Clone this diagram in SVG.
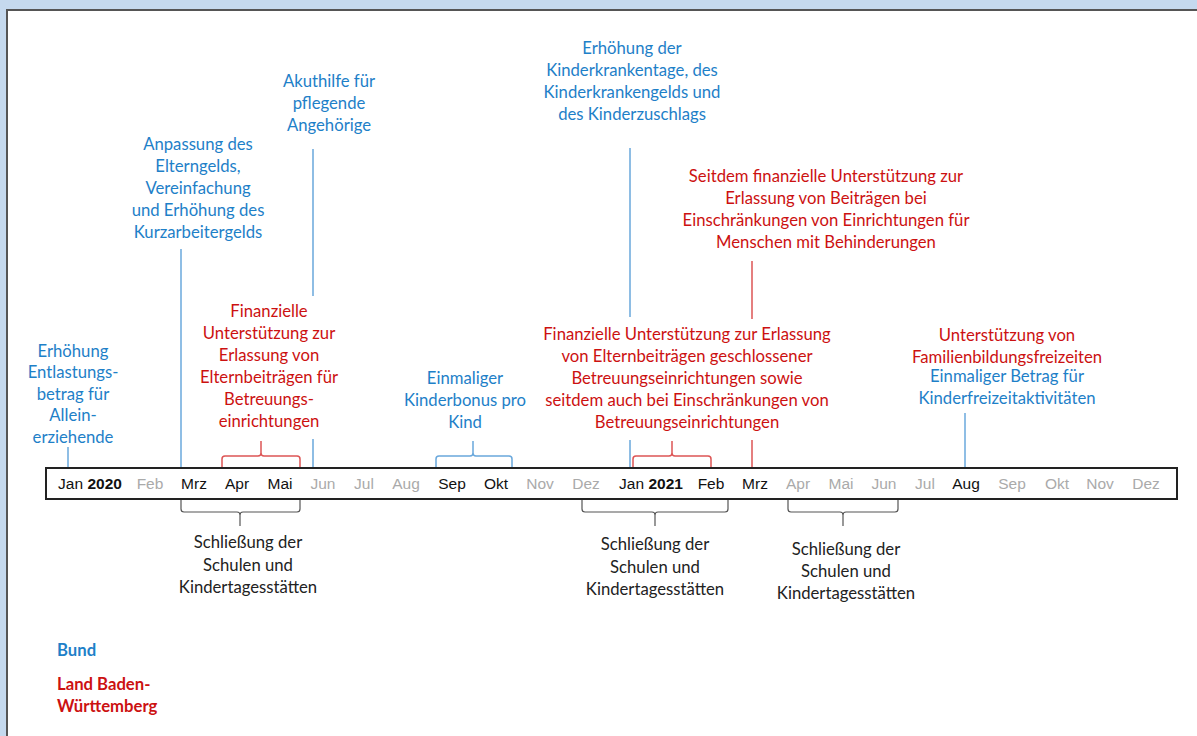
<svg xmlns="http://www.w3.org/2000/svg" width="1197" height="736" viewBox="0 0 1197 736">
<style>
.t{font-family:Lato,"Open Sans","Liberation Sans",sans-serif;font-size:16.7px;text-anchor:middle}
.b{fill:#1e80c8}.r{fill:#cc1111}.k{fill:#222}
.m{font-family:"Liberation Sans",Arial,sans-serif;font-size:15.5px;text-anchor:middle}
.mk{fill:#111}.mg{fill:#aaaaaa}
.lb{stroke:#6aa8dc;stroke-width:1.5;fill:none}
.lr{stroke:#dd5555;stroke-width:1.5;fill:none}
.lg{stroke:#555;stroke-width:1.2;fill:none}
.lg2{font-family:Lato,"Open Sans","Liberation Sans",sans-serif;font-size:16.7px;font-weight:bold}
</style>
<rect width="1197" height="736" fill="#c5d9ee"/>
<rect x="7" y="10" width="1200" height="740" fill="#fff" stroke="#555" stroke-width="2"/>
<g id="timeline">
<rect x="46" y="468" width="1131" height="31" fill="#fff" stroke="#222" stroke-width="2"/>
<text class="m mk" x="90" y="489">Jan <tspan font-weight="bold">2020</tspan></text>
<text class="m mg" x="150" y="489">Feb</text>
<text class="m mk" x="194" y="489">Mrz</text>
<text class="m mk" x="237" y="489">Apr</text>
<text class="m mk" x="280" y="489">Mai</text>
<text class="m mg" x="323" y="489">Jun</text>
<text class="m mg" x="364" y="489">Jul</text>
<text class="m mg" x="406" y="489">Aug</text>
<text class="m mk" x="452" y="489">Sep</text>
<text class="m mk" x="496" y="489">Okt</text>
<text class="m mg" x="540" y="489">Nov</text>
<text class="m mg" x="586" y="489">Dez</text>
<text class="m mk" x="651" y="489">Jan <tspan font-weight="bold">2021</tspan></text>
<text class="m mk" x="711" y="489">Feb</text>
<text class="m mk" x="755" y="489">Mrz</text>
<text class="m mg" x="798" y="489">Apr</text>
<text class="m mg" x="841" y="489">Mai</text>
<text class="m mg" x="884" y="489">Jun</text>
<text class="m mg" x="925" y="489">Jul</text>
<text class="m mk" x="966" y="489">Aug</text>
<text class="m mg" x="1012" y="489">Sep</text>
<text class="m mg" x="1057" y="489">Okt</text>
<text class="m mg" x="1100" y="489">Nov</text>
<text class="m mg" x="1146" y="489">Dez</text>
</g>
<g id="connectors">
<path class="lb" d="M68 447V467"/>
<path class="lb" d="M181 249V467"/>
<path class="lb" d="M313 149V296M313 439V467"/>
<path class="lr" d="M222 467V459Q222 456 225 456H258Q261 456 261 453V441M261 453Q261 456 264 456H297Q300 456 300 459V467"/>
<path class="lb" d="M436 467V459Q436 456 439 456H470Q473 456 473 453V441M473 453Q473 456 476 456H509Q512 456 512 459V467"/>
<path class="lb" d="M630 148V317M630 440V467"/>
<path class="lr" d="M633 467V459Q633 456 636 456H669Q672 456 672 453V441M672 453Q672 456 675 456H708Q711 456 711 459V467"/>
<path class="lr" d="M752 261V319M752 440V467"/>
<path class="lb" d="M965 413V467"/>
<path class="lg" d="M181 500V509Q181 512 184 512H237Q240 512 240 515V526M240 515Q240 512 243 512H297Q300 512 300 509V500"/>
<path class="lg" d="M582 500V509Q582 512 585 512H652Q655 512 655 515V526M655 515Q655 512 658 512H725Q728 512 728 509V500"/>
<path class="lg" d="M788 500V509Q788 512 791 512H840Q843 512 843 515V526M843 515Q843 512 846 512H895Q898 512 898 509V500"/>
</g>
<g id="n-entlastung" class="t b">
<text x="73" y="357">Erhöhung</text><text x="73" y="378">Entlastungs-</text><text x="73" y="400">betrag für</text><text x="73" y="421">Allein-</text><text x="73" y="443">erziehende</text>
</g>
<g id="n-elterngeld" class="t b">
<text x="198" y="150">Anpassung des</text><text x="198" y="172">Elterngelds,</text><text x="198" y="194">Vereinfachung</text><text x="198" y="216">und Erhöhung des</text><text x="198" y="238">Kurzarbeitergelds</text>
</g>
<g id="n-akuthilfe" class="t b">
<text x="329" y="87">Akuthilfe für</text><text x="329" y="109">pflegende</text><text x="329" y="131">Angehörige</text>
</g>
<g id="n-kinderkrank" class="t b">
<text x="632" y="54">Erhöhung der</text><text x="632" y="76">Kinderkrankentage, des</text><text x="632" y="98">Kinderkrankengelds und</text><text x="632" y="120">des Kinderzuschlags</text>
</g>
<g id="n-behinderung" class="t r">
<text x="826" y="182">Seitdem finanzielle Unterstützung zur</text><text x="826" y="204">Erlassung von Beiträgen bei</text><text x="826" y="226">Einschränkungen von Einrichtungen für</text><text x="826" y="248">Menschen mit Behinderungen</text>
</g>
<g id="n-elternbeitraege2020" class="t r">
<text x="269" y="317">Finanzielle</text><text x="269" y="339">Unterstützung zur</text><text x="269" y="361">Erlassung von</text><text x="269" y="383">Elternbeiträgen für</text><text x="269" y="405">Betreuungs-</text><text x="269" y="427">einrichtungen</text>
</g>
<g id="n-kinderbonus" class="t b">
<text x="465" y="384">Einmaliger</text><text x="465" y="406">Kinderbonus pro</text><text x="465" y="428">Kind</text>
</g>
<g id="n-elternbeitraege2021" class="t r">
<text x="687" y="340">Finanzielle Unterstützung zur Erlassung</text><text x="687" y="362">von Elternbeiträgen geschlossener</text><text x="687" y="384">Betreuungseinrichtungen sowie</text><text x="687" y="406">seitdem auch bei Einschränkungen von</text><text x="687" y="428">Betreuungseinrichtungen</text>
</g>
<g id="n-familienbildung" class="t r">
<text x="1007" y="341">Unterstützung von</text><text x="1007" y="363">Familienbildungsfreizeiten</text>
</g>
<g id="n-freizeit" class="t b">
<text x="1007" y="382">Einmaliger Betrag für</text><text x="1007" y="404">Kinderfreizeitaktivitäten</text>
</g>
<g id="n-schule1" class="t k">
<text x="248" y="548">Schließung der</text><text x="248" y="571">Schulen und</text><text x="248" y="593">Kindertagesstätten</text>
</g>
<g id="n-schule2" class="t k">
<text x="655" y="550">Schließung der</text><text x="655" y="573">Schulen und</text><text x="655" y="595">Kindertagesstätten</text>
</g>
<g id="n-schule3" class="t k">
<text x="846" y="555">Schließung der</text><text x="846" y="577">Schulen und</text><text x="846" y="599">Kindertagesstätten</text>
</g>
<g id="legend" class="lg2">
<text x="57" y="656" fill="#1e80c8">Bund</text>
<text x="57" y="690" fill="#cc1111">Land Baden-</text>
<text x="57" y="712" fill="#cc1111">Württemberg</text>
</g>
</svg>
